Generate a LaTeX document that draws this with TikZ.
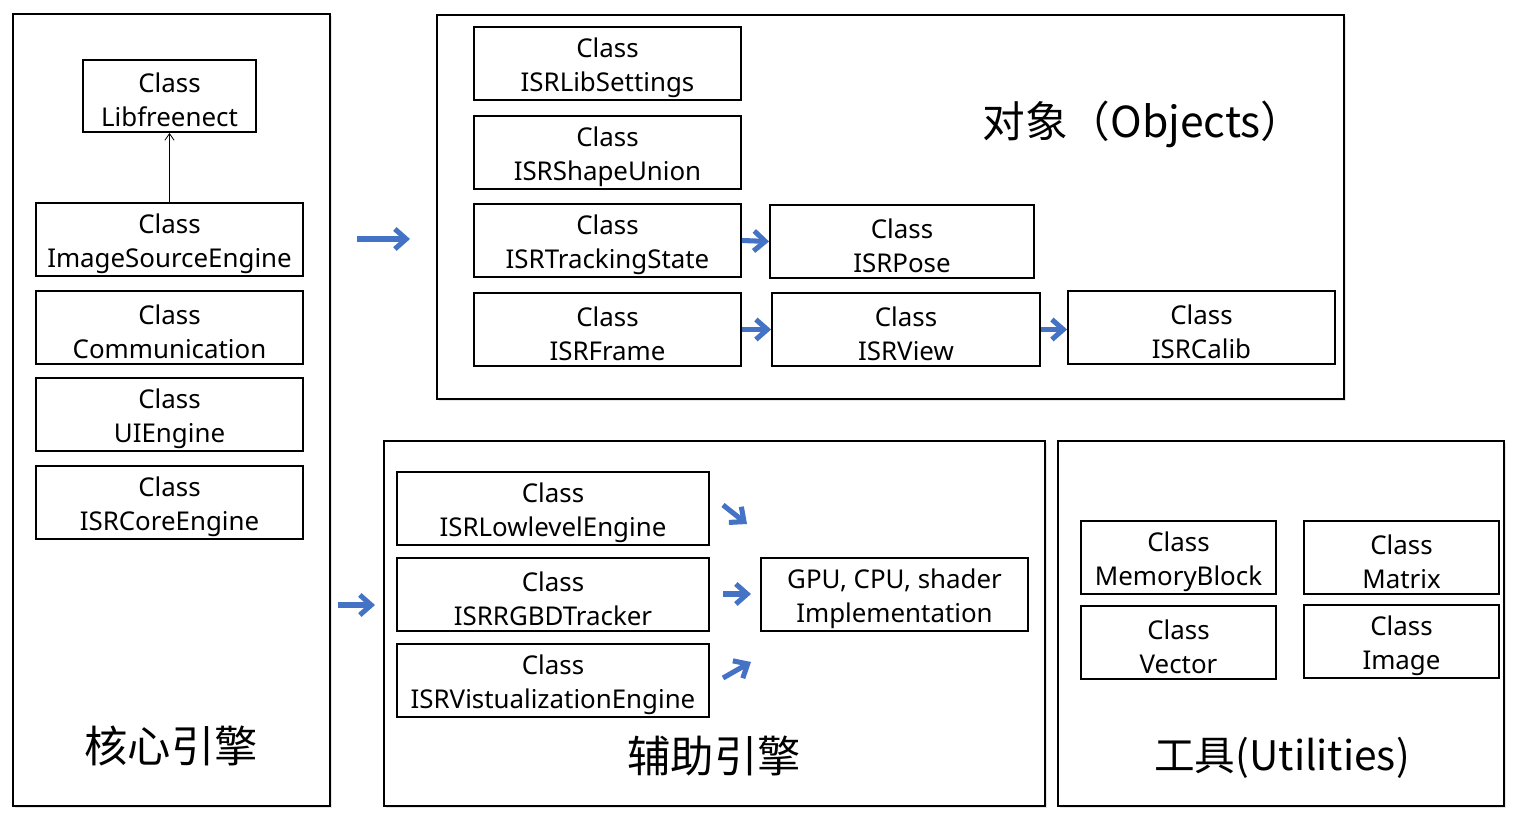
\documentclass[tikz,border=0pt]{standalone}
\usepackage{fontspec}
\setmainfont{Noto Sans}
\newfontfamily\cjk{Noto Sans CJK SC}
\usetikzlibrary{shadows,arrows.meta}
\definecolor{arrowblue}{HTML}{4472C4}
\tikzset{
  x=0.75pt, y=-0.75pt,
  panel/.style={draw=black, line width=1.5pt, fill=white, inner sep=0pt,
    drop shadow={shadow xshift=1.5pt, shadow yshift=-1.5pt, opacity=0.25, fill=black!40}},
  cls/.style={draw=black, line width=1.4pt, fill=white, inner sep=0pt},
  clstext/.style={inner sep=0pt, align=center, font=\fontsize{19.4}{25.5}\selectfont},
  title/.style={font=\cjk\fontsize{32.5}{36}\selectfont, inner sep=0pt},
  bluearrow/.style={draw=arrowblue, line width=3.8pt, -{Straight Barb[length=8.5pt,width=15pt,line width=3.8pt]}},
  thinarrow/.style={draw=black, line width=0.6pt, -{Straight Barb[length=5pt,width=7pt]}}
}
\newcommand\cbox[6]{%
  \node[cls, minimum width={(#4-#2)*0.75pt}, minimum height={(#5-#3)*0.75pt}]
    (#1) at ({(#2+#4)/2},{(#3+#5)/2}) {};
  \node[clstext] (#1-t) at ([yshift=-3pt]#1.center) {#6};}
\newcommand\pbox[5]{%
  \node[panel, minimum width={(#4-#2)*0.75pt}, minimum height={(#5-#3)*0.75pt}]
    (#1) at ({(#2+#4)/2},{(#3+#5)/2}) {};}
\begin{document}
\begin{tikzpicture}
\useasboundingbox[fill=white] (0,0) rectangle (1514,824);
% panels
\pbox{core}{13}{14}{330}{806}
\pbox{obj}{437}{15}{1344}{399}
\pbox{aux}{384}{441}{1045}{806}
\pbox{util}{1058}{441}{1504}{806}
% core engine
\cbox{libf}{83}{60}{256}{132}{Class\\Libfreenect}
\cbox{ise}{36}{203}{303}{276}{Class\\ImageSourceEngine}
\cbox{comm}{36}{291}{303}{364}{Class\\Communication}
\cbox{ui}{36}{378}{303}{451}{Class\\UIEngine}
\cbox{core2}{36}{466}{303}{539}{Class\\ISRCoreEngine}
\node[title] (coret) at (171,746) {核心引擎};
\draw[thinarrow] (ise.north) -- (libf.south);
% objects
\cbox{libs}{474}{27}{741}{100}{Class\\ISRLibSettings}
\cbox{shape}{474}{116}{741}{189}{Class\\ISRShapeUnion}
\cbox{track}{474}{204}{741}{277}{Class\\ISRTrackingState}
\cbox{pose}{770}{205}{1034}{278}{Class\\ISRPose}
\cbox{frame}{474}{293}{741}{366}{Class\\ISRFrame}
\cbox{view}{772}{293}{1040}{366}{Class\\ISRView}
\cbox{calib}{1068}{291}{1335}{364}{Class\\ISRCalib}
\node[title, font=\cjk\fontsize{32}{36}\selectfont] (objt) at (1143,124) {对象（Objects）};
\draw[bluearrow] (track.east) -- (pose.west);
\draw[bluearrow] (frame.east) -- (view.west |- frame.east);
\draw[bluearrow] (view.east) -- (calib.west |- view.east);
% core -> objects arrow
\coordinate (a1s) at (357,239);
\coordinate (a1e) at (410,239);
\draw[bluearrow] (a1s) -- (a1e);
% aux engine
\cbox{low}{397}{472}{709}{545}{Class\\ISRLowlevelEngine}
\cbox{rgbd}{397}{558}{709}{631}{Class\\ISRRGBDTracker}
\cbox{vis}{397}{644}{709}{717}{Class\\ISRVistualizationEngine}
\cbox{gpu}{761}{558}{1028}{631}{GPU, CPU, shader\\Implementation}
\node[title] (auxt) at (714,756) {辅助引擎};
\coordinate (b1s) at (723,505); \coordinate (b1e) at (747,524);
\coordinate (b2s) at (723,594); \coordinate (b2e) at (751,594);
\coordinate (b3s) at (723,678); \coordinate (b3e) at (751,662);
\draw[bluearrow] (b1s) -- (b1e);
\draw[bluearrow] (b2s) -- (b2e);
\draw[bluearrow] (b3s) -- (b3e);
\coordinate (a2s) at (338,605);
\coordinate (a2e) at (375,605);
\draw[bluearrow] (a2s) -- (a2e);
% utilities
\cbox{mem}{1081}{521}{1276}{594}{Class\\MemoryBlock}
\cbox{mat}{1304}{521}{1499}{594}{Class\\Matrix}
\cbox{vec}{1081}{606}{1276}{679}{Class\\Vector}
\cbox{img}{1304}{605}{1499}{678}{Class\\Image}
\node[title, font=\cjk\fontsize{30.5}{36}\selectfont] (utilt) at (1282,758) {工具(Utilities)};
\end{tikzpicture}
\end{document}
